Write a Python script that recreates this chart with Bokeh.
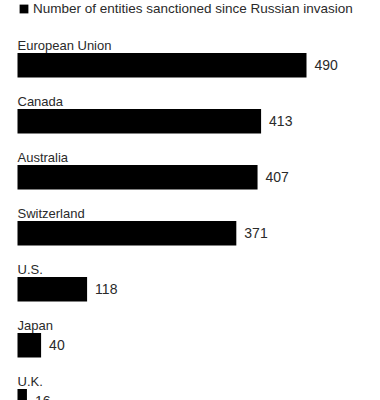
from bokeh.plotting import figure
from bokeh.models import Range1d, ColumnDataSource, Legend, LegendItem
from bokeh.core.properties import value
from bokeh.embed import file_html
from bokeh.resources import INLINE

countries = ["European Union", "Canada", "Australia", "Switzerland", "U.S.", "Japan", "U.K."]
entities = [490, 413, 407, 371, 118, 40, 16]
legend_label = "Number of entities sanctioned since Russian invasion"

idx = list(range(len(countries)))
src = ColumnDataSource(dict(y=idx, v=entities, name=countries, vtxt=[str(v) for v in entities]))

W, H = 372, 400
p = figure(width=W, height=H, output_backend="svg", toolbar_location=None,
           x_range=Range1d(-28.82, 601.9), y_range=Range1d(5.9875, -1.1554),
           min_border=0, outline_line_color=None,
           x_axis_location=None, y_axis_location=None)
p.grid.visible = False
p.background_fill_color = "white"
p.border_fill_color = "white"

FONT = value("Liberation Sans")
bars = p.hbar(y="y", right="v", left=0, height=0.4375, source=src,
              fill_color="black", line_color=None)
p.text(x=0, y="y", text="name", source=src, y_offset=-19.5,
       text_font=FONT, text_font_size="13px", text_color="#2a2a2a",
       text_baseline="alphabetic", text_align="left")
p.text(x="v", y="y", text="vtxt", source=src, x_offset=8,
       text_font=FONT, text_font_size="14px", text_color="#2a2a2a",
       text_baseline="middle", text_align="left")

legend = Legend(items=[LegendItem(label=legend_label, renderers=[bars])],
                location=(18, H - 16), orientation="horizontal",
                padding=0, margin=0, spacing=0,
                glyph_width=11, glyph_height=11, label_standoff=4,
                label_text_font="Liberation Sans", label_text_font_size="13.5px",
                label_text_color="#2a2a2a", label_height=11,
                border_line_color=None, background_fill_alpha=0)
p.add_layout(legend, "center")

open("out.html", "w").write(file_html(p, INLINE))
